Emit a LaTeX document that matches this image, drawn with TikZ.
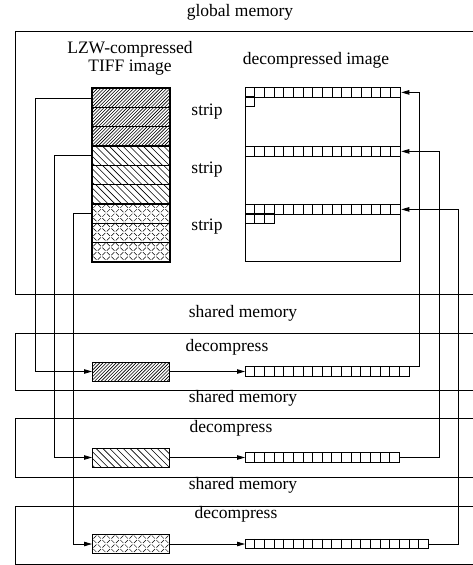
\documentclass[tikz,border=0pt]{standalone}
\usepackage{fontspec}
\setmainfont{Liberation Serif}
\usetikzlibrary{arrows.meta,calc}

\tikzset{
  box/.style={line width=0.8pt},
  hl/.style={line width=0.6pt},
  patA/.style={path picture={
    \foreach \t in {-24,-20.7,...,80}
      \draw[hl] ($(path picture bounding box.south west)+(\t,0)$) -- ++(24,-24);}},
  patB/.style={path picture={
    \foreach \t in {-24,-17.2,...,80}
      \draw[hl] ($(path picture bounding box.north west)+(\t,0)$) -- ++(24,24);}},
  patC/.style={path picture={
    \foreach \a in {0,9,...,81}
      \foreach \b in {0,9,18}{
        \draw[line width=0.5pt] ($(path picture bounding box.north west)+(\a,\b)+(1,4)$) -- ++(3,-3);
        \draw[line width=0.5pt] ($(path picture bounding box.north west)+(\a,\b)+(5.5,1)$) -- ++(3,3);
        \draw[line width=0.5pt] ($(path picture bounding box.north west)+(\a,\b)+(1,5.5)$) -- ++(3,3);
        \draw[line width=0.5pt] ($(path picture bounding box.north west)+(\a,\b)+(5.5,8.5)$) -- ++(3,-3);
      }}},
  strow/.style={draw, line width=0.8pt, minimum width=77pt, minimum height=19.22pt, inner sep=0pt, anchor=north west},
  hrect/.style={draw, line width=0.8pt, minimum width=77pt, minimum height=19pt, inner sep=0pt, anchor=west},
  cellrow/.style={draw, line width=1.3pt, minimum height=9.5pt, inner sep=0pt},
  cellline/.style={line width=0.8pt},
  arr/.style={line width=0.8pt, -{Triangle[length=8pt,width=4.5pt]}},
  lab/.style={inner sep=0pt}
}

\begin{document}
\begin{tikzpicture}[x=1pt,y=-1pt,font=\fontsize{17.5}{19}\selectfont]
\useasboundingbox (0,0) rectangle (473,565);

% memory areas
\draw[box] (474,31) -- (15,31) -- (15,294) -- (474,294);
\draw[box] (474,333) -- (15,333) -- (15,390) -- (474,390);
\draw[box] (474,418) -- (15,418) -- (15,477) -- (474,477);
\draw[box] (474,506) -- (15,506) -- (15,564) -- (474,564);

% labels
\node[lab] (tglob) at (240,12) {global memory};
\node[lab] (tlzw1) at (130,49) {LZW-compressed};
\node[lab] (tlzw2) at (130,68) {TIFF image};
\node[lab] (tdec) at (316,60) {decompressed image};
\node[lab] (ts1) at (207,112) {strip};
\node[lab] (ts2) at (207,170) {strip};
\node[lab] (ts3) at (207,227) {strip};
\node[lab] (tsh1) at (243,313) {shared memory};
\node[lab] (tdc1) at (227,347) {decompress};
\node[lab] (tsh2) at (243,398) {shared memory};
\node[lab] (tdc2) at (231,428) {decompress};
\node[lab] (tsh3) at (243,485) {shared memory};
\node[lab] (tdc3) at (236,514) {decompress};

% compressed image rows
\foreach \i/\s in {1/patA,2/patA,3/patA,4/patB,5/patB,6/patB,7/patC,8/patC,9/patC}
  \node[strow,\s] (row\i) at (92,{88+(\i-1)*19.22}) {};
\draw[line width=2pt] (row1.north west) rectangle (row9.south east);
\draw[line width=2pt] (row3.south west) -- (row3.south east);
\draw[line width=2pt] (row6.south west) -- (row6.south east);

% decompressed image
\node[draw, line width=0.8pt, minimum width=155pt, minimum height=174pt, inner sep=0pt, anchor=north west] (dimg) at (245,87) {};
\node[cellrow, minimum width=155pt, anchor=north west] (d1) at (245,87) {};
\node[cellrow, minimum width=155pt, anchor=north west] (d2) at (245,146) {};
\node[cellrow, minimum width=155pt, anchor=north west] (d3) at (245,204) {};
\foreach \r in {d1,d2,d3}
  \foreach \k in {1,...,15}
    \draw[cellline] ($(\r.north west)+(\k*9.6875,0)$) -- ++(0,9.5);
\draw[line width=1pt] (245,96.5) rectangle ++(9.6875,9.5);
\foreach \k in {0,1,2}
  \draw[line width=1pt] ({245+\k*9.6875},213.5) rectangle ++(9.6875,9.5);

% hatched buffers
\node[hrect,patA] (r1) at (92,371.5) {};
\node[hrect,patB] (r2) at (92,457.5) {};
\node[hrect,patC] (r3) at (92,544) {};

% decompressed buffers
\node[cellrow, line width=0.9pt, minimum width=164.05pt, anchor=west] (c1) at (245,371.5) {};
\node[cellrow, line width=0.9pt, minimum width=154.4pt, anchor=west] (c2) at (245,457.5) {};
\node[cellrow, line width=0.9pt, minimum width=183.35pt, anchor=west] (c3) at (245,544) {};
\foreach \r/\n in {c1/16,c2/15,c3/18}
  \foreach \k in {1,...,\n}
    \draw[cellline] ($(\r.north west)+(\k*9.65,0)$) -- ++(0,9.5);

% connectors
\draw[arr] (row1.west) -- ++(-57,0) |- (r1.west);
\draw[arr] (row4.west) -- ++(-38,0) |- (r2.west);
\draw[arr] (row7.west) -- ++(-19,0) |- (r3.west);
\draw[arr] (r1.east) -- (c1.west);
\draw[arr] (r2.east) -- (c2.west);
\draw[arr] (r3.east) -- (c3.west);
\draw[arr] (c1.north east) -- ++(9,0) |- (d1.east);
\draw[arr] (c2.east) -- ++(38.6,0) |- (d2.east);
\draw[arr] (c3.east) -- ++(28.65,0) |- (d3.east);
\end{tikzpicture}
\end{document}
